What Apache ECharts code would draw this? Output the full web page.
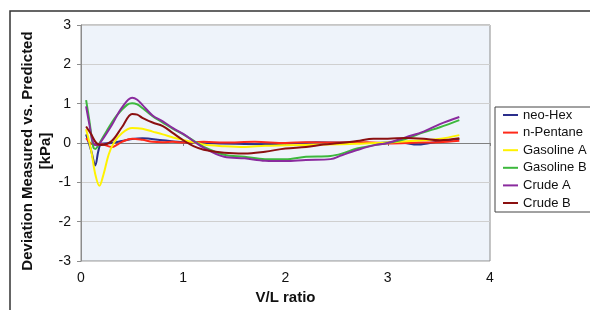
<!DOCTYPE html>
<html lang="en">
<head>
    <meta charset="UTF-8">
    <title>Deviation vs V/L ratio</title>
    <script src="https://cdn.jsdelivr.net/npm/echarts@6/dist/echarts.min.js"></script>
    <style>
        html, body { margin: 0; padding: 0; background: #fff; }
        #chart { width: 590px; height: 310px; }
    </style>
</head>
<body>
    <div id="chart"></div>
    <script>
        // values as [V/L ratio, deviation kPa]
        const neoHex = [
            [0.05, 0.22], [0.1, -0.2], [0.14, -0.57], [0.17, -0.2], [0.2, -0.02], [0.3, 0.0],
            [0.4, 0.05], [0.5, 0.1], [0.6, 0.12], [0.8, 0.07], [1.0, 0.02], [1.2, 0.0],
            [1.5, -0.02], [1.8, -0.03], [2.0, -0.02], [2.3, 0.02], [2.6, 0.01], [2.9, 0.0],
            [3.1, 0.02], [3.3, -0.04], [3.5, 0.04], [3.7, 0.1]
        ];
        const nPentane = [
            [0.05, 0.12], [0.1, -0.02], [0.15, -0.05], [0.2, -0.03], [0.3, -0.1], [0.35, -0.05],
            [0.4, 0.03], [0.5, 0.11], [0.6, 0.08], [0.7, 0.03], [0.8, 0.02], [0.9, 0.03],
            [1.0, 0.01], [1.2, 0.03], [1.4, 0.01], [1.7, 0.03], [2.0, 0.0], [2.2, 0.02],
            [2.5, 0.01], [2.8, 0.02], [3.0, -0.01], [3.3, 0.01], [3.5, 0.02], [3.7, 0.06]
        ];
        const gasolineA = [
            [0.05, 0.35], [0.1, -0.2], [0.14, -0.8], [0.18, -1.09], [0.22, -0.8], [0.27, -0.3],
            [0.32, 0.0], [0.4, 0.25], [0.5, 0.38], [0.6, 0.36], [0.7, 0.29], [0.8, 0.22],
            [0.9, 0.14], [1.0, 0.08], [1.2, -0.04], [1.4, -0.08], [1.6, -0.1], [1.8, -0.07],
            [2.0, -0.06], [2.4, -0.04], [2.7, -0.02], [3.0, 0.01], [3.35, 0.07], [3.5, 0.1], [3.7, 0.2]
        ];
        const gasolineB = [
            [0.05, 1.09], [0.08, 0.6], [0.12, -0.1], [0.14, -0.15], [0.17, -0.05], [0.25, 0.3],
            [0.35, 0.7], [0.45, 0.97], [0.5, 1.01], [0.55, 0.98], [0.6, 0.89], [0.7, 0.68],
            [0.8, 0.52], [0.9, 0.36], [1.0, 0.22], [1.1, 0.06], [1.2, -0.1], [1.4, -0.3],
            [1.6, -0.35], [1.8, -0.41], [2.0, -0.41], [2.2, -0.35], [2.44, -0.33], [2.55, -0.27],
            [2.7, -0.14], [2.86, -0.06], [3.0, 0.0], [3.18, 0.11], [3.35, 0.27], [3.51, 0.4], [3.7, 0.58]
        ];
        const crudeA = [
            [0.05, 0.93], [0.08, 0.5], [0.12, 0.0], [0.16, -0.06], [0.2, 0.05], [0.3, 0.45],
            [0.4, 0.9], [0.5, 1.15], [0.55, 1.1], [0.6, 0.97], [0.7, 0.7], [0.8, 0.55],
            [0.9, 0.38], [1.0, 0.23], [1.2, -0.12], [1.4, -0.35], [1.6, -0.39], [1.8, -0.45],
            [2.0, -0.46], [2.2, -0.43], [2.44, -0.41], [2.55, -0.31], [2.7, -0.18], [2.86, -0.06],
            [3.0, 0.0], [3.18, 0.15], [3.35, 0.29], [3.51, 0.48], [3.7, 0.66]
        ];
        const crudeB = [
            [0.05, 0.42], [0.1, 0.22], [0.15, 0.0], [0.2, -0.05], [0.3, 0.05], [0.4, 0.4],
            [0.5, 0.74], [0.55, 0.72], [0.6, 0.64], [0.7, 0.52], [0.8, 0.43], [0.9, 0.25],
            [1.0, 0.07], [1.1, -0.08], [1.2, -0.17], [1.4, -0.25], [1.6, -0.27], [1.8, -0.22],
            [2.0, -0.14], [2.2, -0.1], [2.37, -0.04], [2.53, 0.0], [2.7, 0.05], [2.86, 0.11],
            [3.0, 0.11], [3.18, 0.13], [3.35, 0.11], [3.51, 0.07], [3.7, 0.12]
        ];

        const seriesNames = ['neo-Hex', 'n-Pentane', 'Gasoline A', 'Gasoline B', 'Crude A', 'Crude B'];
        const seriesData = [neoHex, nPentane, gasolineA, gasolineB, crudeA, crudeB];
        const seriesColors = ['#2b2f8c', '#ff2a1a', '#fff200', '#3db83d', '#8a2b9e', '#8b1010'];

        const chart = echarts.init(document.getElementById('chart'));
        const font = 'Liberation Sans, Arial, sans-serif';

        chart.setOption({
            animation: false,
            textStyle: { fontFamily: font },
            graphic: [{
                type: 'rect',
                shape: { x: 10, y: 11, width: 640, height: 340 },
                style: { fill: 'none', stroke: '#333', lineWidth: 1.5 },
                silent: true
            }],
            grid: {
                left: 81, top: 25, width: 409, height: 241,
                show: true,
                backgroundColor: '#eef3fa',
                borderColor: '#8c8c8c',
                borderWidth: 1
            },
            legend: {
                orient: 'vertical',
                left: 495, top: 107,
                data: seriesNames,
                icon: 'rect',
                itemWidth: 15, itemHeight: 2,
                itemGap: 1.6,
                padding: [0, 30, 1, 8],
                borderColor: '#444', borderWidth: 1,
                backgroundColor: '#fff',
                textStyle: { fontSize: 13, color: '#111', lineHeight: 16, fontFamily: font }
            },
            xAxis: [{
                type: 'value',
                min: 0, max: 4, interval: 1,
                name: 'V/L ratio',
                nameLocation: 'middle',
                nameGap: 29,
                nameMoveOverlap: false,
                nameTextStyle: { fontSize: 15, fontWeight: 'bold', color: '#111' },
                axisLine: { show: false, onZero: false },
                axisTick: { show: false },
                splitLine: { show: false },
                axisLabel: { fontSize: 14, color: '#111', margin: 10 }
            }, {
                type: 'value',
                min: 0, max: 4, interval: 1,
                position: 'bottom',
                axisLine: { show: true, onZero: true, lineStyle: { color: '#808080', width: 1 } },
                axisTick: { show: true, length: 3, lineStyle: { color: '#808080' } },
                axisLabel: { show: false },
                splitLine: { show: false }
            }],
            yAxis: {
                type: 'value',
                min: -3, max: 3, interval: 1,
                name: 'Deviation Measured vs. Predicted\n[kPa]',
                nameLocation: 'middle',
                nameGap: 26,
                nameMoveOverlap: false,
                nameTextStyle: { fontSize: 15, fontWeight: 'bold', color: '#111', lineHeight: 18, padding: [0, 16, 0, 0] },
                axisLine: { show: true, lineStyle: { color: '#8c8c8c' } },
                axisTick: { show: true, length: 4, lineStyle: { color: '#8c8c8c' } },
                splitLine: { show: true, lineStyle: { color: '#cfcfcf', width: 1 } },
                axisLabel: { fontSize: 14, color: '#111', margin: 10 }
            },
            series: seriesNames.map((name, i) => ({
                name: name,
                type: 'line',
                xAxisIndex: 0,
                data: seriesData[i],
                smooth: 0.35,
                showSymbol: false,
                symbol: 'none',
                color: seriesColors[i],
                lineStyle: { width: 2, color: seriesColors[i] }
            }))
        });
    </script>
</body>
</html>
